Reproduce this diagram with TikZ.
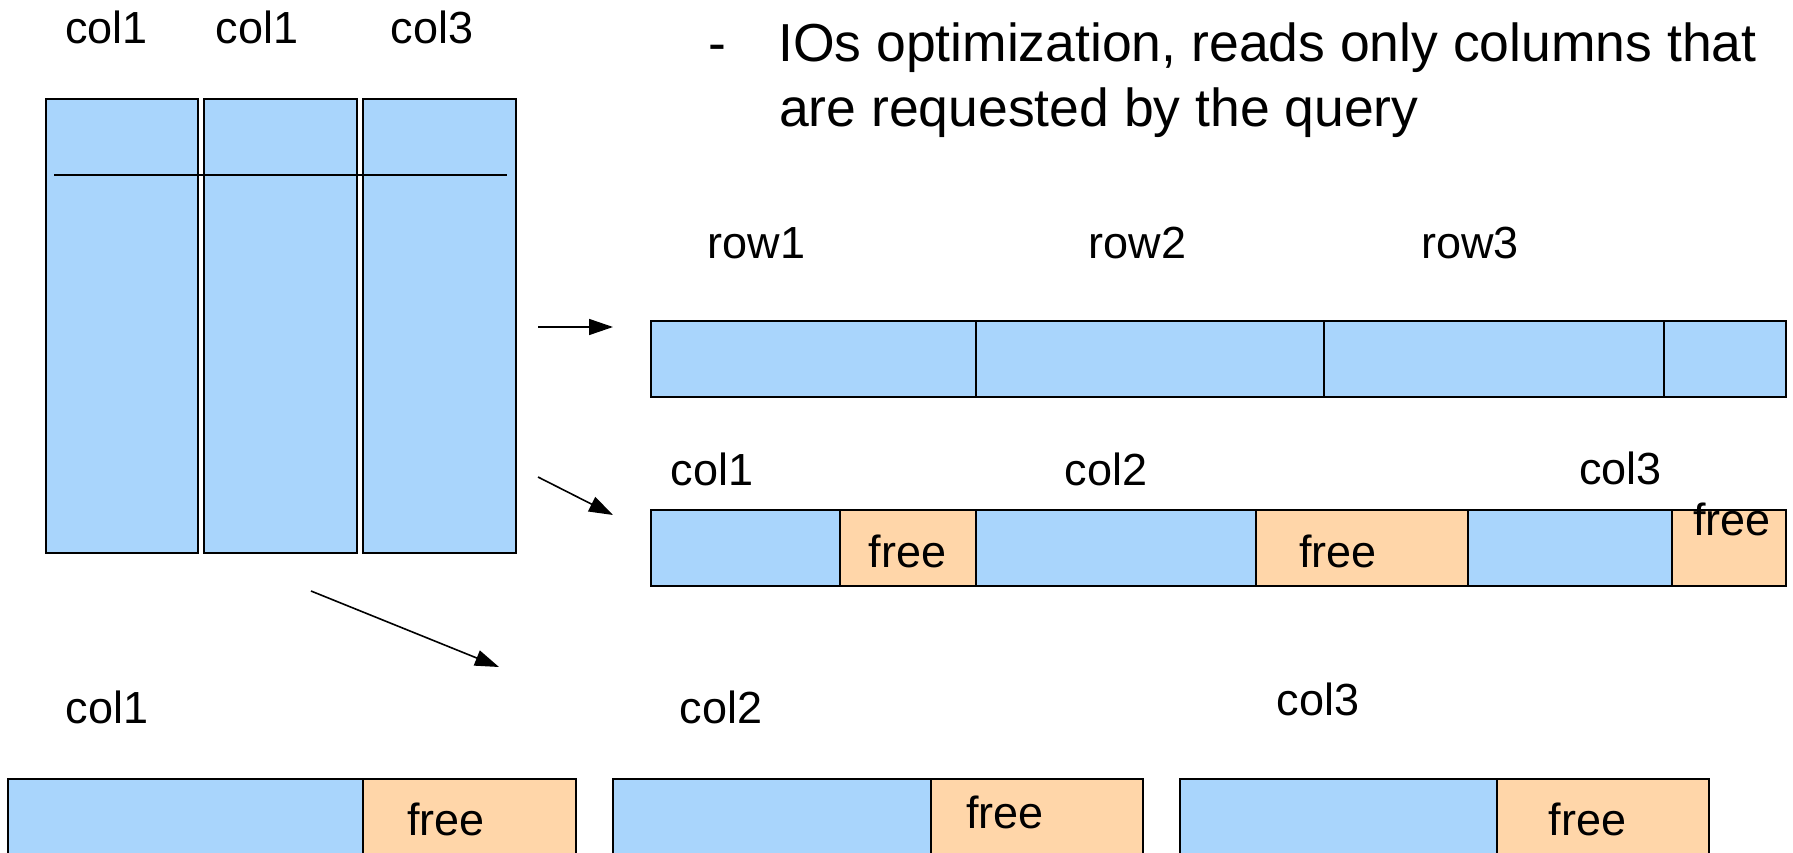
\documentclass[tikz,border=0pt]{standalone}
\usepackage{fontspec}
\setmainfont{Liberation Sans}
\usetikzlibrary{arrows.meta}
\definecolor{azul}{RGB}{169,213,252}
\definecolor{pessego}{RGB}{255,214,169}

\begin{document}
\begin{tikzpicture}[x=1pt,y=-1pt,
  seg/.style={draw=black,fill=azul,line width=2pt,inner sep=0pt,outer sep=0pt,anchor=north west},
  freeseg/.style={seg,fill=pessego},
  lbl/.style={font=\fontsize{45}{54}\selectfont,inner sep=0pt,anchor=base},
  txt/.style={font=\fontsize{53.5}{64}\selectfont,inner sep=0pt,anchor=base west},
  arr/.style={line width=1.6pt,-{Triangle[length=24pt,width=16pt]}}]
\useasboundingbox (0,0) rectangle (1793,853);
%tabela
  \node[seg,minimum width=152,minimum height=454] (tc1) at (46,99) {};
  \node[seg,minimum width=153,minimum height=454] (tc2) at (204,99) {};
  \node[seg,minimum width=153,minimum height=454] (tc3) at (363,99) {};
  \coordinate (la) at (54,175);
  \coordinate (lb) at (507,175);
  \draw[line width=1.6pt] (la) -- (lb);
  \node[lbl] (th1) at (106.5,44) {col1};
  \node[lbl] (th2) at (257,44) {col1};
  \node[lbl] (th3) at (432,44) {col3};
%texto
  \node[txt] (dash) at (708,62) {-};
  \node[txt] (linha1) at (778,62) {IOs optimization, reads only columns that};
  \node[txt] (linha2) at (779,127) {are requested by the query};
%linhas
  \node[lbl] (r1) at (756.5,258) {row1};
  \node[lbl] (r2) at (1137.5,258) {row2};
  \node[lbl] (r3) at (1470,258) {row3};
  \node[seg,minimum width=325,minimum height=76] (rs1) at (651,321) {};
  \node[seg,minimum width=348,minimum height=76] (rs2) at (976,321) {};
  \node[seg,minimum width=340,minimum height=76] (rs3) at (1324,321) {};
  \node[seg,minimum width=122,minimum height=76] (rs4) at (1664,321) {};
%colunas
  \node[lbl] (c1) at (712,485) {col1};
  \node[lbl] (c2) at (1106,485) {col2};
  \node[lbl] (c3) at (1620.5,484) {col3};
  \node[seg,minimum width=189,minimum height=76] (cs1) at (651,510) {};
  \node[freeseg,minimum width=136,minimum height=76] (cf1) at (840,510) {};
  \node[seg,minimum width=280,minimum height=76] (cs2) at (976,510) {};
  \node[freeseg,minimum width=212,minimum height=76] (cf2) at (1256,510) {};
  \node[seg,minimum width=204,minimum height=76] (cs3) at (1468,510) {};
  \node[freeseg,minimum width=114,minimum height=76] (cf3) at (1672,510) {};
  \node[lbl] (cl1) at (907.5,567) {free};
  \node[lbl] (cl2) at (1338,567) {free};
  \node[lbl] (cl3) at (1732,535) {free};
%arquivos separados
  \node[lbl] (b1) at (107,723) {col1};
  \node[lbl] (b2) at (721,723) {col2};
  \node[lbl] (b3) at (1318,715) {col3};
  \node[seg,minimum width=355,minimum height=110] (bs1) at (8,779) {};
  \node[freeseg,minimum width=213,minimum height=110] (bf1) at (363,779) {};
  \node[seg,minimum width=318,minimum height=110] (bs2) at (613,779) {};
  \node[freeseg,minimum width=212,minimum height=110] (bf2) at (931,779) {};
  \node[seg,minimum width=317,minimum height=110] (bs3) at (1180,779) {};
  \node[freeseg,minimum width=212,minimum height=110] (bf3) at (1497,779) {};
  \node[lbl] (bl1) at (446,835) {free};
  \node[lbl] (bl2) at (1005,828) {free};
  \node[lbl] (bl3) at (1587.5,835) {free};
%setas
  \coordinate (s1a) at (538,327);
  \coordinate (s1b) at (613,327);
  \coordinate (s2a) at (538,477);
  \coordinate (s2b) at (613,515);
  \coordinate (s3a) at (311,591);
  \coordinate (s3b) at (499,667);
  \draw[arr] (s1a) -- (s1b);
  \draw[arr] (s2a) -- (s2b);
  \draw[arr] (s3a) -- (s3b);
\end{tikzpicture}
\end{document}
